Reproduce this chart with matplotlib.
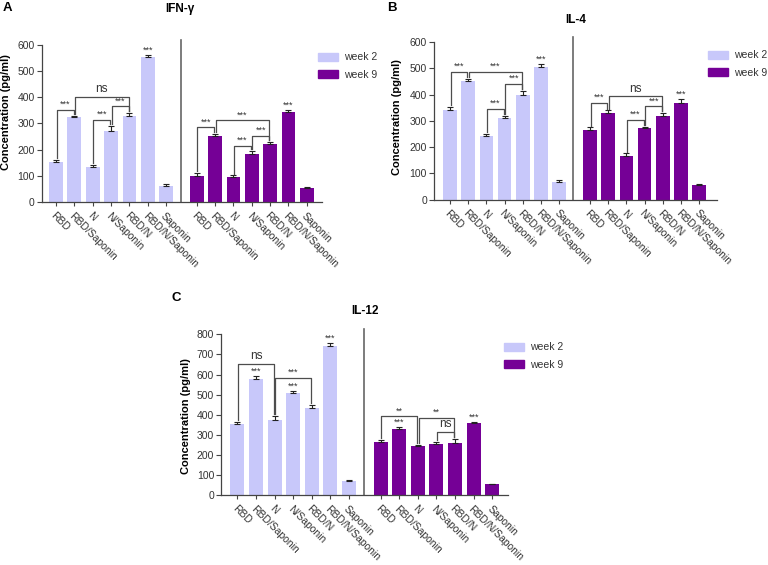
import numpy as np
import matplotlib
matplotlib.use('Agg')
import matplotlib.pyplot as plt
from matplotlib.patches import Patch

plt.rcParams['font.family'] = ['Liberation Sans', 'DejaVu Sans']

# grupos e valores
grupos = ['RBD', 'RBD/Saponin', 'N', 'N/Saponin', 'RBD/N', 'RBD/N/Saponin', 'Saponin']

ifn_w2 = [153, 324, 133, 271, 330, 553, 63]
ifn_w2_err = [8, 6, 8, 19, 9, 8, 5]
ifn_w9 = [100, 253, 97, 184, 223, 343, 56]
ifn_w9_err = [12, 6, 5, 11, 8, 8, 3]

il4_w2 = [341, 451, 242, 310, 399, 504, 67]
il4_w2_err = [11, 9, 8, 9, 14, 14, 9]
il4_w9 = [265, 331, 166, 272, 319, 370, 56]
il4_w9_err = [10, 9, 10, 5, 11, 15, 3]

il12_w2 = [356, 579, 374, 508, 434, 740, 70]
il12_w2_err = [10, 12, 18, 8, 13, 17, 5]
il12_w9 = [267, 329, 243, 253, 262, 361, 55]
il12_w9_err = [7, 10, 7, 13, 20, 3, 2]

# colchetes de significancia: (semana, barra i, barra j, altura, texto)
ifn_brackets = [(0, 0, 1, 353, '***'), (0, 1, 4, 401, 'ns'), (0, 2, 3, 315, '***'), (0, 3, 4, 365, '***'),
                (1, 0, 1, 285, '***'), (1, 1, 4, 313, '***'), (1, 2, 3, 215, '***'), (1, 3, 4, 254, '***')]
ifn_stars = [(0, 5, '***'), (1, 5, '***')]

il4_brackets = [(0, 0, 1, 488, '***'), (0, 1, 4, 487, '***'), (0, 2, 3, 346, '***'), (0, 3, 4, 442, '***'),
                (1, 0, 1, 370, '***'), (1, 1, 4, 393, 'ns'), (1, 2, 3, 305, '***'), (1, 3, 4, 356, '***')]
il4_stars = [(0, 5, '***'), (1, 5, '***')]

il12_brackets = [(0, 0, 2, 652, 'ns'), (0, 2, 4, 583, '***'),
                 (1, 0, 2, 392, '**'), (1, 2, 4, 384, '**'), (1, 3, 4, 316, 'ns')]
il12_stars = [(0, 1, '***'), (0, 3, '***'), (0, 5, '***'), (1, 1, '***'), (1, 5, '***')]

cor_w2 = '#C8C8FA'
cor_w9 = '#750096'
cinza = '#333333'

fig = plt.figure(figsize=(7.68, 5.65), dpi=100)


def painel(rect, w2, w2e, w9, w9e, brackets, stars, ymax, ystep, base9, xlim, divx):
    ax = fig.add_axes(rect)
    x2 = np.arange(7)
    x9 = np.arange(7) + base9
    xs = [x2, x9]
    vals = [np.array(w2), np.array(w9)]
    errs = [np.array(w2e), np.array(w9e)]
    ax.bar(x2, w2, width=0.75, color=cor_w2, zorder=2)
    ax.bar(x9, w9, width=0.75, color=cor_w9, zorder=2)
    for k in range(2):
        ax.errorbar(xs[k], vals[k], yerr=[np.zeros(7), errs[k]], fmt='none',
                    ecolor='#222222', elinewidth=0.8, capsize=2.5, capthick=0.8, zorder=3)
    gap = ymax * 0.012
    for (w, i, j, h, txt) in brackets:
        xa = xs[w][i] + 0.04
        xb = xs[w][j] - 0.04
        ya = vals[w][i] + errs[w][i] + gap
        yb = vals[w][j] + errs[w][j] + gap
        ax.plot([xa, xa, xb, xb], [ya, h, h, yb], color='#4d4d4d', lw=0.9, zorder=4)
        if txt == 'ns':
            ax.text((xa + xb) / 2, h + ymax * 0.01, txt, ha='center', va='bottom',
                    fontsize=8.5, color=cinza)
        else:
            ax.text((xa + xb) / 2, h + ymax * 0.005, txt, ha='center', va='bottom',
                    fontsize=6.5, color=cinza)
    for (w, i, txt) in stars:
        ax.text(xs[w][i], vals[w][i] + errs[w][i] + ymax * 0.002, txt, ha='center', va='bottom',
                fontsize=6.5, color=cinza)
    ax.axvline(divx, ymin=0, ymax=1.03, color='#666666', lw=1.2, clip_on=False)
    ax.set_xlim(*xlim)
    ax.set_ylim(0, ymax)
    ax.set_yticks(np.arange(0, ymax + 1, ystep))
    ax.set_xticks(np.concatenate([x2, x9]))
    ax.set_xticklabels(grupos + grupos, rotation=-45, ha='left', va='top',
                       rotation_mode='anchor', fontsize=7.5, color=cinza)
    ax.tick_params(axis='y', labelsize=7.5, labelcolor=cinza, length=3.5, width=0.8, color='#444444', pad=1.5)
    ax.tick_params(axis='x', length=3, width=0.8, color='#444444', pad=3)
    for s in ['top', 'right']:
        ax.spines[s].set_visible(False)
    for s in ['left', 'bottom']:
        ax.spines[s].set_color('#444444')
        ax.spines[s].set_linewidth(0.9)
    return ax


def legenda(ax, x, y):
    hs = [Patch(color=cor_w2), Patch(color=cor_w9)]
    ax.legend(hs, ['week 2', 'week 9'], loc='upper left', bbox_to_anchor=(x, y),
              bbox_transform=fig.transFigure, frameon=False, fontsize=7.5, borderpad=0,
              handlelength=1.9, handleheight=0.8, handletextpad=0.6, labelspacing=0.7,
              labelcolor=cinza)


axA = painel([0.0543, 0.642, 0.365, 0.279], ifn_w2, ifn_w2_err, ifn_w9, ifn_w9_err,
             ifn_brackets, ifn_stars, 600, 100, 7.67, (-0.78, 14.5), 6.82)
axB = painel([0.565, 0.6465, 0.3685, 0.279], il4_w2, il4_w2_err, il4_w9, il4_w9_err,
             il4_brackets, il4_stars, 600, 100, 7.69, (-0.88, 14.66), 6.75)
axC = painel([0.2878, 0.1234, 0.3733, 0.2849], il12_w2, il12_w2_err, il12_w9, il12_w9_err,
             il12_brackets, il12_stars, 800, 100, 7.7, (-0.88, 14.53), 6.81)

legenda(axA, 313 / 768, 1 - 47 / 565)
legenda(axB, 703 / 768, 1 - 45 / 565)
legenda(axC, 499 / 768, 1 - 337 / 565)

# titulos, letras e rotulos do eixo y
fig.text(180 / 768, 1 - 9 / 565, 'IFN-γ', ha='center', va='center', fontsize=8.5, fontweight='bold')
fig.text(576 / 768, 1 - 20 / 565, 'IL-4', ha='center', va='center', fontsize=8.5, fontweight='bold')
fig.text(365 / 768, 1 - 311 / 565, 'IL-12', ha='center', va='center', fontsize=8.5, fontweight='bold')
fig.text(7 / 768, 1 - 8 / 565, 'A', ha='center', va='center', fontsize=9.5, fontweight='bold')
fig.text(392 / 768, 1 - 8 / 565, 'B', ha='center', va='center', fontsize=9.5, fontweight='bold')
fig.text(176 / 768, 1 - 298 / 565, 'C', ha='center', va='center', fontsize=9.5, fontweight='bold')
fig.text(6 / 768, 1 - 112 / 565, 'Concentration (pg/ml)', rotation=90, ha='center', va='center',
         fontsize=8, fontweight='bold')
fig.text(397 / 768, 1 - 117 / 565, 'Concentration (pg/ml)', rotation=90, ha='center', va='center',
         fontsize=8, fontweight='bold')
fig.text(186 / 768, 1 - 416 / 565, 'Concentration (pg/ml)', rotation=90, ha='center', va='center',
         fontsize=8, fontweight='bold')

fig.savefig('out.png', dpi=100)
